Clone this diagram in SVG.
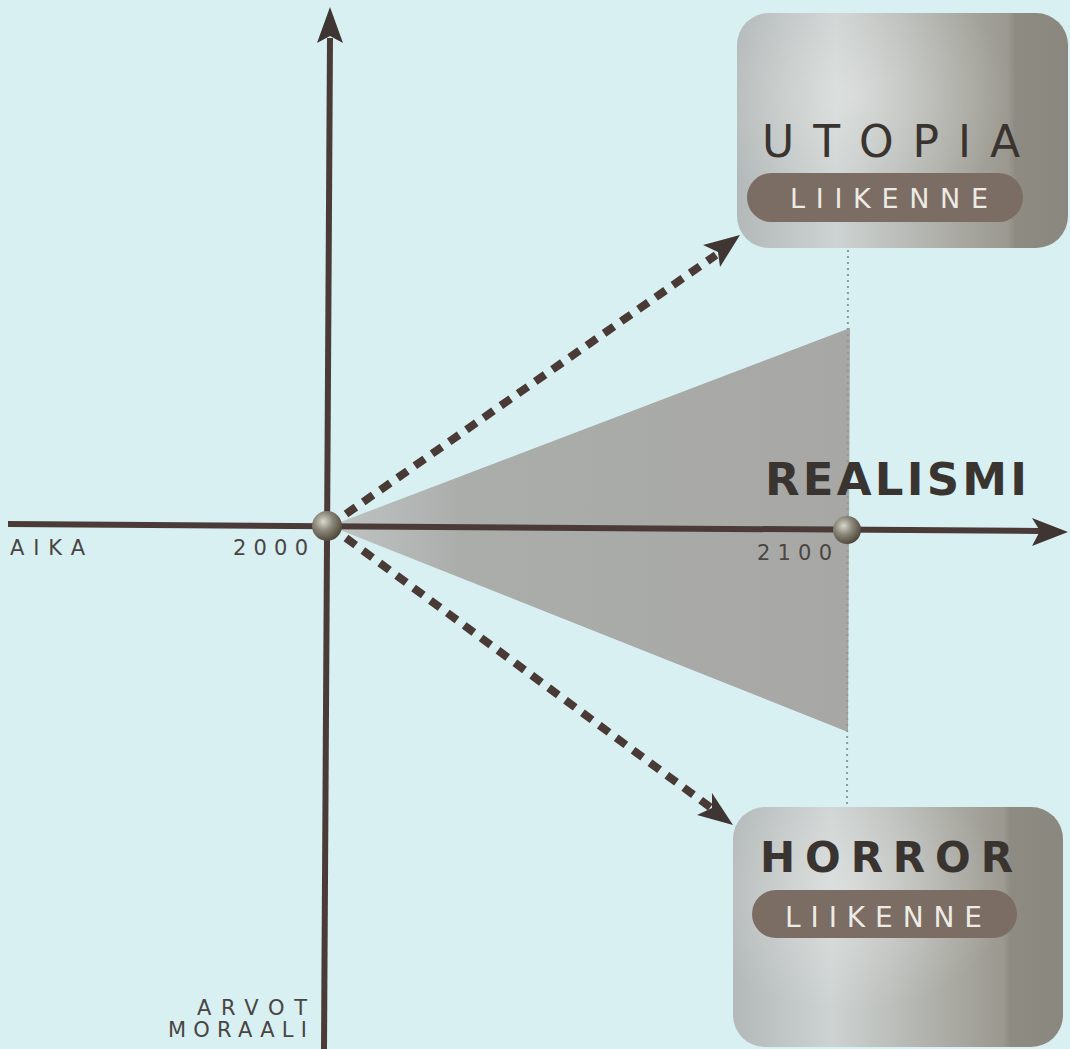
<svg xmlns="http://www.w3.org/2000/svg" width="1070" height="1049" viewBox="0 0 1070 1049">
<defs>
<style>
.lbl{font-family:"DejaVu Sans","Liberation Sans",sans-serif;fill:#4a4542;}
.title{font-family:"DejaVu Sans","Liberation Sans",sans-serif;fill:#3a3431;}
.pilltxt{font-family:"DejaVu Sans","Liberation Sans",sans-serif;fill:#ecebe4;}
.axis{stroke:#4a3b38;stroke-width:6;fill:none;}
.dash{stroke:#4a3a35;stroke-width:8;stroke-dasharray:12 9;fill:none;}
.head{fill:#3f3532;}
.pill{fill:#7b6c64;}
</style>
<linearGradient id="boxg" x1="0" y1="0" x2="1" y2="0">
<stop offset="0" stop-color="#b3b9b8"/>
<stop offset="0.3" stop-color="#cdd3d2"/>
<stop offset="0.6" stop-color="#b0b1ab"/>
<stop offset="0.82" stop-color="#9a988f"/>
<stop offset="0.84" stop-color="#8e8c82"/>
<stop offset="1" stop-color="#8a887e"/>
</linearGradient>
<radialGradient id="boxhl" cx="0.35" cy="0.35" r="0.5">
<stop offset="0" stop-color="#ffffff" stop-opacity="0.3"/>
<stop offset="1" stop-color="#ffffff" stop-opacity="0"/>
</radialGradient>
<linearGradient id="trig" x1="0" y1="0" x2="1" y2="0">
<stop offset="0" stop-color="#bfc5c3"/>
<stop offset="0.25" stop-color="#abadab"/>
<stop offset="1" stop-color="#a7a8a5"/>
</linearGradient>
<radialGradient id="ball" cx="0.38" cy="0.35" r="0.7">
<stop offset="0" stop-color="#d8d8cc"/>
<stop offset="0.45" stop-color="#8a8678"/>
<stop offset="1" stop-color="#4a4236"/>
</radialGradient>
</defs>
<rect width="1070" height="1049" fill="#d8f0f2"/>

<polygon id="realism-cone" points="330,526 850,328 848,732" fill="url(#trig)"/>
<line x1="848" y1="250" x2="847" y2="808" stroke="#8f9a9a" stroke-width="2" stroke-dasharray="2 4"/>

<g id="connectors">
<line class="axis" x1="8" y1="524" x2="1040" y2="531"/>
<polygon class="head" points="1068,532 1032,518 1040,531 1032,546"/>
<line class="axis" x1="330" y1="38" x2="324" y2="1049"/>
<polygon class="head" points="330,7 317,43 330,36 343,43"/>
<line class="dash" x1="346" y1="514" x2="716" y2="255"/>
<polygon class="head" points="740,235 703,245 718,252 720,267"/>
<line class="dash" x1="346" y1="538" x2="714" y2="810"/>
<polygon class="head" points="733,825 712,793 712,808 697,815"/>
</g>

<g id="origin">
<circle cx="327" cy="526" r="15" fill="url(#ball)"/>
</g>
<g id="point-2100">
<circle cx="847" cy="530" r="14" fill="url(#ball)"/>
</g>

<g id="utopia">
<rect x="737" y="13" width="331" height="235" rx="32" fill="url(#boxg)"/>
<rect x="737" y="13" width="331" height="235" rx="32" fill="url(#boxhl)"/>
<text class="title" x="762" y="157" font-size="44" textLength="258" lengthAdjust="spacing">UTOPIA</text>
<rect class="pill" x="747" y="173" width="276" height="49" rx="24.5"/>
<text class="pilltxt" x="790" y="208" font-size="27" textLength="198" lengthAdjust="spacing">LIIKENNE</text>
</g>

<g id="horror">
<rect x="733" y="807" width="330" height="240" rx="32" fill="url(#boxg)"/>
<rect x="733" y="807" width="330" height="240" rx="32" fill="url(#boxhl)"/>
<text class="title" x="760" y="872" font-size="42" font-weight="bold" textLength="253" lengthAdjust="spacing">HORROR</text>
<rect class="pill" x="752" y="890" width="265" height="48" rx="24"/>
<text class="pilltxt" x="785" y="927" font-size="28" textLength="197" lengthAdjust="spacing">LIIKENNE</text>
</g>

<g id="realismi">
<text class="title" x="765" y="495" font-size="45" font-weight="bold" textLength="262" lengthAdjust="spacing">REALISMI</text>
</g>

<g id="labels">
<text class="lbl" x="10" y="555" font-size="21" textLength="75" lengthAdjust="spacing">AIKA</text>
<text class="lbl" x="233" y="555" font-size="21" textLength="75" lengthAdjust="spacing">2000</text>
<text class="lbl" x="757" y="560" font-size="21" textLength="75" lengthAdjust="spacing">2100</text>
<text class="lbl" x="197" y="1015" font-size="21" textLength="110" lengthAdjust="spacing">ARVOT</text>
<text class="lbl" x="168" y="1037" font-size="21" textLength="139" lengthAdjust="spacing">MORAALI</text>
</g>
</svg>
